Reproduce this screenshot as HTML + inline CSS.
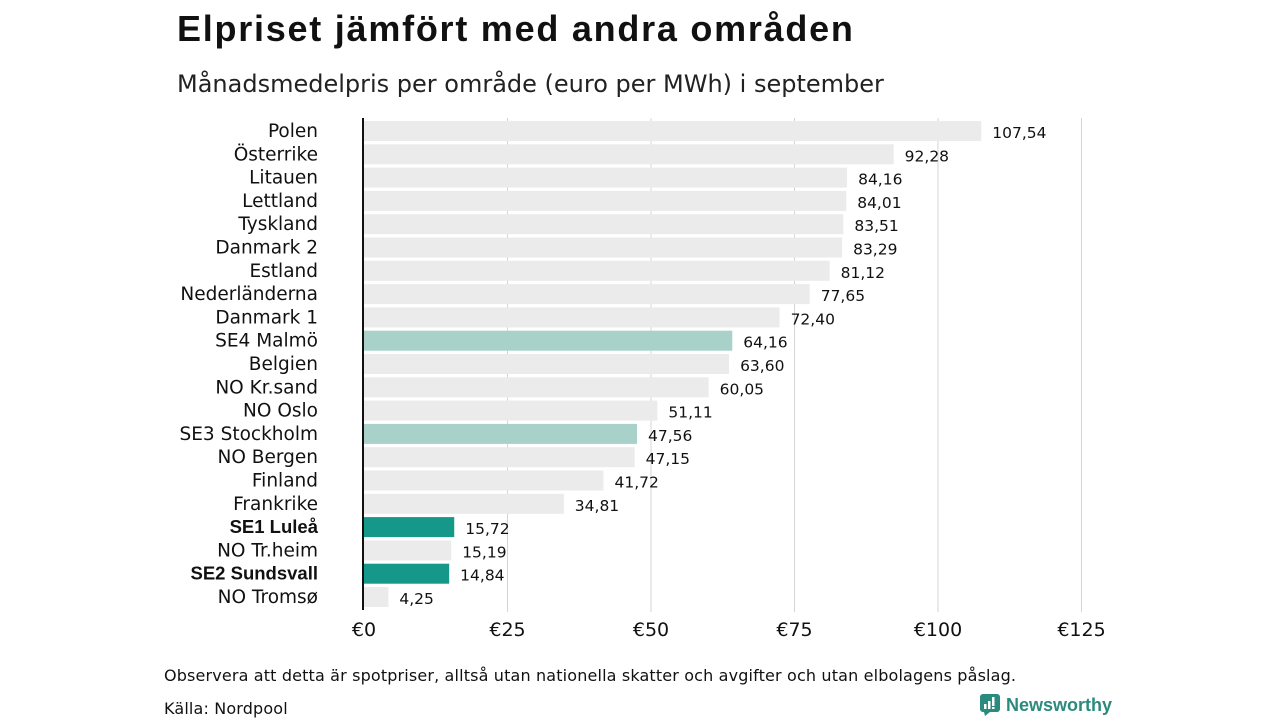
<!DOCTYPE html>
<html><head><meta charset="utf-8"><style>
body{margin:0;width:1280px;height:720px;background:#fff;font-family:"Liberation Sans","DejaVu Sans",sans-serif;position:relative;overflow:hidden;color:#111}
h1{position:absolute;left:177px;top:8px;margin:0;font-size:36px;font-weight:bold;letter-spacing:1.75px}
.sub{position:absolute;left:177px;top:70px;font-size:24px;color:#222;font-family:"DejaVu Sans",sans-serif}
.note{position:absolute;left:164px;font-size:16px;color:#111;font-family:"DejaVu Sans",sans-serif;letter-spacing:0.15px}
.logo{position:absolute;left:980px;top:694px;font-size:18px;font-weight:bold;color:#2a8a7e;display:flex;align-items:center;gap:6px}
</style></head><body>
<h1>Elpriset jämfört med andra områden</h1>
<div class="sub">Månadsmedelpris per område (euro per MWh) i september</div>
<svg id="chart" width="1280" height="720" style="position:absolute;left:0;top:0"></svg>
<div class="note" style="top:666px">Observera att detta är spotpriser, alltså utan nationella skatter och avgifter och utan elbolagens påslag.</div>
<div class="note" style="top:699px">Källa: Nordpool</div>
<div class="logo"><svg width="20" height="22"><rect x="0" y="0" width="20" height="18" rx="3" fill="#2a8a7e"/><polygon points="4,18 10,18 5,22" fill="#2a8a7e"/><rect x="4" y="10" width="2.5" height="5" fill="#fff"/><rect x="8" y="7" width="2.5" height="8" fill="#fff"/><rect x="12" y="3" width="2.5" height="9" fill="#fff"/><rect x="12" y="13" width="2.5" height="2" fill="#fff"/></svg>Newsworthy</div>
<script>
const categories=["Polen","Österrike","Litauen","Lettland","Tyskland","Danmark 2","Estland","Nederländerna","Danmark 1","SE4 Malmö","Belgien","NO Kr.sand","NO Oslo","SE3 Stockholm","NO Bergen","Finland","Frankrike","SE1 Luleå","NO Tr.heim","SE2 Sundsvall","NO Tromsø"];
const values=[107.54,92.28,84.16,84.01,83.51,83.29,81.12,77.65,72.40,64.16,63.60,60.05,51.11,47.56,47.15,41.72,34.81,15.72,15.19,14.84,4.25];
const highlight=["","","","","","","","","","light","","","","light","","","","dark","","dark",""];
const ticks=[0,25,50,75,100,125];
const tickLabels=["€0","€25","€50","€75","€100","€125"];
const svg=document.getElementById('chart');const NS="http://www.w3.org/2000/svg";
const x=v=>364+v*5.74;const y=i=>131+i*23.3;
function mk(t,a){const e=document.createElementNS(NS,t);for(const k in a)e.setAttribute(k,a[k]);svg.appendChild(e);return e;}
ticks.forEach((t,i)=>{
 if(t>0){const g=mk('line',{x1:x(t),x2:x(t),y1:118,y2:612,stroke:'#d4d4d4','stroke-width':1});
 
 }
 const l=mk('text',{x:x(t),y:636,'text-anchor':'middle','font-size':19,'font-family':'DejaVu Sans, sans-serif',fill:'#111'});l.textContent=tickLabels[i];
 
 
});
categories.forEach((c,i)=>{
 const col=highlight[i]=='dark'?'#15978a':highlight[i]=='light'?'#a8d2c9':'#ebebeb';
 const r=mk('rect',{x:x(0),y:y(i)-10,width:x(values[i])-x(0),height:20,fill:col});
 
 
 const bold=highlight[i]=='dark';
 const l=mk('text',{x:318,y:y(i)+6,'text-anchor':'end','font-size':bold?18.5:18.5,'font-weight':bold?'bold':'normal','font-family':bold?'Liberation Sans, sans-serif':'DejaVu Sans, sans-serif',fill:'#111'});l.textContent=c;
 
 
 const v=mk('text',{x:x(values[i])+11,y:y(i)+7,'font-size':15.5,'font-family':'DejaVu Sans, sans-serif',fill:'#111'});v.textContent=values[i].toFixed(2).replace('.',',');
 
 
});
const ax=mk('line',{x1:363,x2:363,y1:118,y2:610,stroke:'#111','stroke-width':2});


</script>
</body></html>
